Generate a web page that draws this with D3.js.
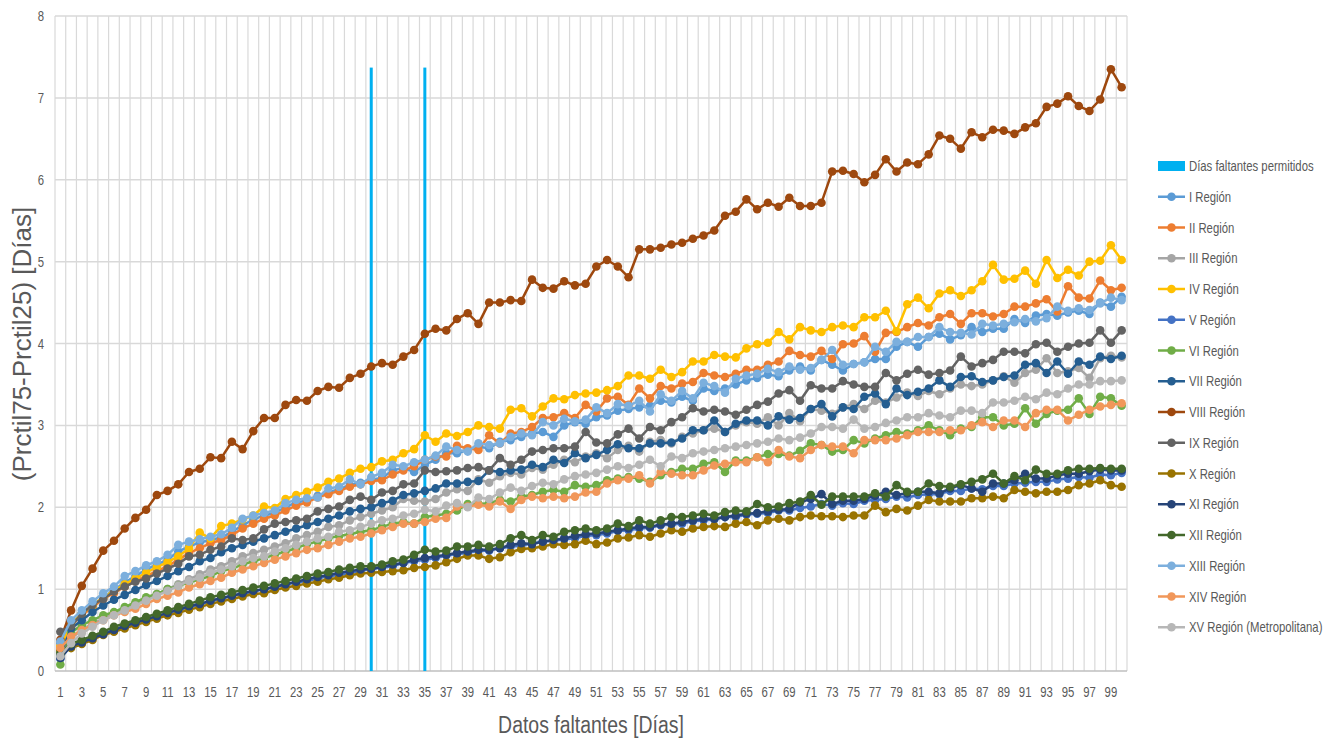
<!DOCTYPE html>
<html><head><meta charset="utf-8">
<script src="https://cdn.jsdelivr.net/npm/d3@7"></script>
<style>body{margin:0;background:#fff}svg{display:block}</style>
</head><body><svg id="c" width="1327" height="740"></svg>
<script>
const days = [1,2,3,4,5,6,7,8,9,10,11,12,13,14,15,16,17,18,19,20,21,22,23,24,25,26,27,28,29,30,31,32,33,34,35,36,37,38,39,40,41,42,43,44,45,46,47,48,49,50,51,52,53,54,55,56,57,58,59,60,61,62,63,64,65,66,67,68,69,70,71,72,73,74,75,76,77,78,79,80,81,82,83,84,85,86,87,88,89,90,91,92,93,94,95,96,97,98,99,100];
const yTicks = [0,1,2,3,4,5,6,7,8];
const barName = "Días faltantes permitidos";
const barDays = [30, 35];
const barValues = [7.37, 7.37];
const seriesNames = ["I Región","II Región","III Región","IV Región","V Región","VI Región","VII Región","VIII Región","IX Región","X Región","XI Región","XII Región","XIII Región","XIV Región","XV Región (Metropolitana)"];
const seriesColors = ["#5B9BD5","#ED7D31","#A5A5A5","#FFC000","#4472C4","#70AD47","#255E91","#9E480E","#636363","#997300","#264478","#43682B","#7CAFDD","#F1975A","#B7B7B7"];

const rI = [0.34,0.58,0.70,0.80,0.90,0.99,1.08,1.16,1.24,1.30,
1.36,1.46,1.52,1.57,1.60,1.63,1.70,1.78,1.85,1.90,
1.93,2.00,2.06,2.08,2.14,2.18,2.22,2.27,2.30,2.33,
2.36,2.45,2.48,2.43,2.52,2.58,2.66,2.66,2.70,2.74,
2.72,2.80,2.82,2.86,2.90,2.92,2.86,3.00,3.04,3.02,
3.10,3.12,3.18,3.20,3.22,3.24,3.30,3.28,3.35,3.30,
3.45,3.42,3.45,3.50,3.55,3.58,3.62,3.60,3.67,3.72,
3.67,3.80,3.74,3.67,3.75,3.77,3.81,3.81,3.96,4.02,
3.96,4.08,4.12,4.05,4.10,4.20,4.14,4.18,4.18,4.30,
4.25,4.34,4.36,4.34,4.38,4.40,4.36,4.50,4.45,4.57];
const rII = [0.30,0.55,0.68,0.78,0.88,0.95,1.03,1.10,1.16,1.22,
1.28,1.36,1.44,1.50,1.56,1.60,1.66,1.74,1.80,1.86,
1.90,1.96,2.02,2.06,2.12,2.16,2.20,2.25,2.28,2.32,
2.33,2.40,2.45,2.50,2.58,2.62,2.62,2.75,2.72,2.70,
2.88,2.78,2.90,2.92,2.98,3.09,3.10,3.15,3.09,3.25,
3.17,3.33,3.35,3.25,3.45,3.33,3.48,3.45,3.51,3.53,
3.64,3.61,3.59,3.63,3.68,3.68,3.74,3.78,3.91,3.86,
3.84,3.91,3.81,3.99,4.00,4.09,3.90,4.13,4.14,4.20,
4.25,4.22,4.32,4.36,4.24,4.37,4.37,4.33,4.36,4.45,
4.45,4.49,4.54,4.39,4.70,4.56,4.55,4.77,4.65,4.68];
const rIII = [0.20,0.40,0.50,0.58,0.64,0.70,0.76,0.82,0.88,0.94,
1.00,1.06,1.12,1.18,1.24,1.28,1.34,1.40,1.44,1.48,
1.52,1.56,1.62,1.66,1.70,1.76,1.78,1.84,1.88,1.92,
1.96,2.00,2.10,2.08,2.07,2.10,2.18,2.22,2.20,2.34,
2.30,2.38,2.42,2.40,2.48,2.46,2.52,2.58,2.55,2.62,
2.66,2.60,2.70,2.75,2.68,2.80,2.82,2.78,2.86,2.90,
2.94,2.96,2.92,3.00,3.04,3.02,3.10,3.00,3.15,3.05,
3.20,3.18,3.14,3.22,3.26,3.20,3.30,3.28,3.34,3.40,
3.36,3.42,3.38,3.45,3.50,3.48,3.50,3.55,3.60,3.52,
3.64,3.68,3.82,3.64,3.66,3.70,3.58,3.82,3.85,3.83];
const rIV = [0.30,0.57,0.70,0.80,0.90,0.98,1.06,1.13,1.20,1.27,
1.33,1.40,1.50,1.69,1.62,1.77,1.80,1.85,1.90,2.01,
1.99,2.10,2.15,2.19,2.24,2.31,2.35,2.42,2.47,2.49,
2.56,2.58,2.66,2.71,2.88,2.80,2.90,2.87,2.92,3.00,
2.98,2.96,3.19,3.21,3.11,3.23,3.33,3.32,3.37,3.39,
3.40,3.43,3.48,3.61,3.61,3.57,3.68,3.59,3.65,3.78,
3.78,3.86,3.84,3.83,3.94,3.99,4.01,4.14,4.05,4.20,
4.16,4.14,4.20,4.22,4.20,4.32,4.32,4.40,4.15,4.48,
4.56,4.43,4.61,4.65,4.58,4.65,4.76,4.96,4.78,4.79,
4.89,4.73,5.02,4.80,4.90,4.83,5.00,5.01,5.20,5.02];
const rV = [0.15,0.32,0.37,0.41,0.46,0.50,0.55,0.59,0.63,0.66,
0.71,0.74,0.78,0.81,0.85,0.88,0.92,0.94,0.97,1.00,
1.02,1.06,1.08,1.10,1.13,1.16,1.17,1.20,1.22,1.25,
1.26,1.28,1.32,1.34,1.36,1.38,1.41,1.43,1.44,1.47,
1.47,1.50,1.52,1.53,1.56,1.58,1.59,1.61,1.62,1.65,
1.66,1.68,1.71,1.72,1.74,1.75,1.78,1.79,1.80,1.83,
1.84,1.85,1.88,1.88,1.91,1.92,1.93,1.96,1.96,1.99,
2.01,2.04,2.02,2.05,2.04,2.08,2.09,2.10,2.13,2.12,
2.15,2.16,2.16,2.20,2.20,2.23,2.22,2.26,2.26,2.29,
2.30,2.31,2.31,2.34,2.35,2.37,2.36,2.40,2.39,2.42];
const rVI = [0.08,0.47,0.56,0.62,0.68,0.72,0.78,0.84,0.90,0.94,
1.00,1.04,1.08,1.12,1.16,1.22,1.25,1.30,1.34,1.38,
1.42,1.46,1.50,1.55,1.58,1.62,1.65,1.67,1.70,1.72,
1.76,1.80,1.82,1.80,1.88,1.90,1.92,1.96,2.04,2.04,
2.05,2.09,2.07,2.13,2.15,2.19,2.21,2.19,2.27,2.25,
2.27,2.33,2.35,2.37,2.35,2.31,2.39,2.43,2.47,2.47,
2.53,2.55,2.43,2.57,2.57,2.61,2.65,2.65,2.63,2.69,
2.78,2.76,2.68,2.70,2.82,2.78,2.84,2.88,2.92,2.90,
2.94,3.00,2.94,2.88,2.96,2.98,3.10,3.10,3.00,3.02,
3.21,3.02,3.14,3.18,3.19,3.33,3.14,3.35,3.33,3.24];
const rVII = [0.20,0.52,0.62,0.72,0.80,0.87,0.93,0.99,1.05,1.10,
1.16,1.22,1.27,1.34,1.38,1.45,1.50,1.54,1.58,1.62,
1.66,1.70,1.74,1.78,1.82,1.86,1.90,1.95,1.98,2.00,
2.05,2.08,2.15,2.17,2.20,2.23,2.29,2.29,2.31,2.32,
2.45,2.43,2.45,2.46,2.52,2.49,2.58,2.54,2.66,2.60,
2.64,2.70,2.77,2.72,2.72,2.78,2.78,2.79,2.84,2.94,
2.94,3.06,2.92,3.02,3.06,3.06,3.00,3.11,3.07,3.09,
3.20,3.26,3.11,3.22,3.20,3.35,3.39,3.26,3.45,3.37,
3.41,3.45,3.55,3.47,3.59,3.60,3.53,3.55,3.59,3.61,
3.74,3.76,3.64,3.78,3.63,3.78,3.74,3.84,3.81,3.85];
const rVIII = [0.38,0.74,1.04,1.25,1.47,1.59,1.74,1.87,1.97,2.15,
2.20,2.28,2.43,2.47,2.61,2.60,2.80,2.71,2.93,3.09,
3.09,3.25,3.31,3.30,3.42,3.47,3.46,3.58,3.63,3.72,
3.76,3.74,3.84,3.92,4.12,4.18,4.16,4.30,4.37,4.24,
4.50,4.50,4.53,4.52,4.78,4.68,4.67,4.76,4.71,4.73,
4.94,5.02,4.94,4.81,5.15,5.15,5.17,5.21,5.23,5.28,
5.32,5.38,5.56,5.61,5.76,5.64,5.72,5.67,5.78,5.68,
5.68,5.72,6.10,6.11,6.07,5.97,6.06,6.25,6.10,6.21,
6.19,6.31,6.54,6.50,6.38,6.58,6.52,6.61,6.60,6.56,
6.64,6.69,6.89,6.93,7.02,6.90,6.84,6.98,7.35,7.13];
const rIX = [0.48,0.55,0.70,0.81,0.88,0.97,1.03,1.09,1.13,1.19,
1.25,1.31,1.40,1.42,1.48,1.52,1.62,1.60,1.62,1.73,
1.80,1.82,1.84,1.86,1.95,1.98,2.01,2.09,2.13,2.09,
2.18,2.20,2.28,2.29,2.45,2.43,2.44,2.45,2.48,2.49,
2.45,2.60,2.52,2.58,2.68,2.70,2.72,2.72,2.74,2.92,
2.79,2.78,2.89,2.96,2.84,2.98,2.94,3.04,3.10,3.21,
3.17,3.19,3.17,3.13,3.19,3.25,3.29,3.39,3.43,3.30,
3.49,3.45,3.45,3.54,3.50,3.47,3.47,3.64,3.55,3.63,
3.68,3.62,3.64,3.67,3.84,3.72,3.76,3.80,3.90,3.90,
3.88,3.99,4.01,3.90,3.96,4.00,4.01,4.16,4.01,4.16];
const rX = [0.25,0.28,0.33,0.38,0.44,0.48,0.52,0.56,0.60,0.64,
0.68,0.71,0.75,0.78,0.82,0.85,0.88,0.91,0.94,0.95,
0.99,1.02,1.04,1.07,1.09,1.12,1.14,1.17,1.19,1.20,
1.21,1.22,1.23,1.26,1.27,1.29,1.33,1.37,1.41,1.41,
1.37,1.39,1.45,1.49,1.50,1.52,1.55,1.54,1.55,1.59,
1.55,1.57,1.62,1.63,1.66,1.64,1.68,1.72,1.70,1.74,
1.76,1.77,1.76,1.80,1.82,1.78,1.84,1.86,1.84,1.88,
1.90,1.89,1.89,1.88,1.90,1.90,2.02,1.94,1.98,1.96,
2.02,2.09,2.07,2.07,2.07,2.11,2.11,2.13,2.11,2.21,
2.19,2.17,2.19,2.19,2.21,2.27,2.29,2.33,2.27,2.25];
const rXI = [0.16,0.30,0.35,0.40,0.45,0.50,0.55,0.59,0.63,0.67,
0.71,0.75,0.79,0.82,0.86,0.89,0.92,0.95,0.98,1.00,
1.03,1.06,1.09,1.12,1.15,1.17,1.20,1.22,1.24,1.25,
1.27,1.30,1.32,1.36,1.38,1.40,1.42,1.44,1.46,1.48,
1.48,1.50,1.54,1.56,1.55,1.58,1.60,1.62,1.65,1.67,
1.68,1.70,1.72,1.74,1.76,1.76,1.79,1.80,1.82,1.84,
1.86,1.86,1.88,1.90,1.92,1.93,1.95,1.97,1.98,2.06,
2.10,2.16,2.04,2.08,2.08,2.10,2.14,2.19,2.15,2.17,
2.19,2.19,2.17,2.23,2.27,2.23,2.19,2.29,2.29,2.33,
2.41,2.35,2.35,2.39,2.41,2.41,2.44,2.46,2.45,2.45];
const rXII = [0.22,0.33,0.38,0.43,0.48,0.54,0.58,0.62,0.66,0.70,
0.74,0.78,0.82,0.86,0.90,0.93,0.96,0.99,1.02,1.04,
1.07,1.10,1.13,1.16,1.19,1.21,1.24,1.26,1.28,1.28,
1.30,1.34,1.36,1.42,1.48,1.46,1.47,1.52,1.52,1.54,
1.52,1.55,1.62,1.66,1.60,1.66,1.64,1.70,1.72,1.74,
1.72,1.74,1.80,1.77,1.84,1.80,1.84,1.88,1.88,1.90,
1.92,1.90,1.94,1.96,1.95,2.04,2.00,2.01,2.05,2.07,
2.15,2.03,2.13,2.13,2.13,2.13,2.17,2.13,2.27,2.19,
2.19,2.29,2.26,2.25,2.28,2.31,2.34,2.41,2.29,2.38,
2.33,2.46,2.41,2.41,2.45,2.47,2.47,2.48,2.47,2.47];
const rXIII = [0.36,0.62,0.74,0.85,0.95,1.03,1.16,1.22,1.29,1.34,
1.42,1.54,1.58,1.61,1.64,1.67,1.75,1.86,1.90,1.93,
1.96,2.05,2.09,2.11,2.12,2.23,2.25,2.34,2.28,2.37,
2.42,2.52,2.50,2.55,2.58,2.63,2.74,2.70,2.68,2.78,
2.76,2.78,2.86,2.90,2.88,3.04,3.00,3.08,3.05,3.07,
3.22,3.15,3.26,3.24,3.30,3.17,3.38,3.30,3.42,3.33,
3.52,3.48,3.40,3.57,3.61,3.63,3.69,3.65,3.72,3.68,
3.70,3.80,3.92,3.74,3.75,3.77,3.96,3.90,4.02,4.02,
4.08,4.08,4.20,4.14,4.13,4.11,4.24,4.22,4.24,4.26,
4.30,4.27,4.31,4.45,4.40,4.43,4.41,4.49,4.56,4.53];
const rXIV = [0.28,0.42,0.50,0.56,0.62,0.68,0.72,0.76,0.82,0.88,
0.92,0.96,1.02,1.06,1.10,1.14,1.20,1.24,1.28,1.32,
1.36,1.40,1.44,1.48,1.50,1.54,1.58,1.62,1.64,1.68,
1.72,1.76,1.80,1.80,1.82,1.86,1.87,2.01,2.01,2.03,
2.01,2.07,1.98,2.09,2.13,2.11,2.13,2.11,2.13,2.18,
2.19,2.29,2.33,2.35,2.39,2.29,2.43,2.41,2.39,2.39,
2.45,2.51,2.53,2.55,2.55,2.61,2.55,2.70,2.62,2.60,
2.70,2.76,2.74,2.74,2.66,2.82,2.82,2.82,2.84,2.88,
2.92,2.92,2.92,2.94,2.94,3.00,3.04,2.98,3.06,3.06,
2.98,3.15,3.19,3.19,3.06,3.13,3.19,3.23,3.25,3.27];
const rXV = [0.18,0.34,0.46,0.54,0.62,0.68,0.74,0.80,0.86,0.92,
0.98,1.04,1.10,1.14,1.20,1.24,1.28,1.34,1.38,1.40,
1.46,1.50,1.54,1.58,1.62,1.64,1.70,1.72,1.76,1.80,
1.84,1.86,1.90,1.92,1.97,1.95,2.02,2.05,2.00,2.12,
2.10,2.18,2.24,2.20,2.26,2.30,2.28,2.34,2.38,2.40,
2.42,2.46,2.50,2.48,2.52,2.58,2.50,2.62,2.60,2.66,
2.68,2.70,2.72,2.74,2.76,2.78,2.80,2.84,2.82,2.85,
2.90,2.98,2.98,2.96,3.07,2.96,2.98,3.03,3.06,3.10,
3.10,3.15,3.12,3.10,3.18,3.18,3.15,3.28,3.28,3.30,
3.35,3.32,3.40,3.38,3.45,3.50,3.50,3.54,3.54,3.55];

const seriesValues = [rI,rII,rIII,rIV,rV,rVI,rVII,rVIII,rIX,rX,rXI,rXII,rXIII,rXIV,rXV];

const FONT = "'Liberation Sans',Arial,sans-serif";
const SQ = 0.81; // horizontal condensing to mimic the narrow face of the original
const TXT = "#595959";
const svg = d3.select("#c");
const pLeft = 55, pRight = 1127, pTop = 16, pBottom = 671;
const x = d3.scaleBand().domain(days).range([pLeft, pRight]).padding(0);
const y = d3.scaleLinear().domain([0, 8]).range([pBottom, pTop]);
const cx = d => x(d) + x.bandwidth() / 2;

function label(g, px, py, str, size, anchor, dy) {
  return g.append("text")
    .attr("transform", `translate(${px},${py}) scale(${SQ},1)`)
    .attr("dy", dy || 0)
    .attr("text-anchor", anchor || "start")
    .attr("font-family", FONT).attr("font-size", size).attr("fill", TXT)
    .text(str);
}

// vertical grid lines at category boundaries
const vg = svg.append("g");
vg.selectAll("line").data(days).join("line")
  .attr("x1", d => x(d)).attr("x2", d => x(d))
  .attr("y1", pTop).attr("y2", pBottom)
  .attr("stroke", "#d9d9d9").attr("stroke-width", 1.2);
vg.append("line").attr("x1", pRight).attr("x2", pRight).attr("y1", pTop).attr("y2", pBottom)
  .attr("stroke", "#d9d9d9").attr("stroke-width", 1.2);
// horizontal grid
svg.append("g").selectAll("line").data(yTicks.filter(t => t > 0)).join("line")
  .attr("x1", pLeft).attr("x2", pRight).attr("y1", d => y(d)).attr("y2", d => y(d))
  .attr("stroke", "#d9d9d9").attr("stroke-width", 1.5);
// bottom axis line
svg.append("line").attr("x1", pLeft).attr("x2", pRight).attr("y1", y(0)).attr("y2", y(0))
  .attr("stroke", "#bfbfbf").attr("stroke-width", 1.5);

// y tick labels
const yl = svg.append("g");
yTicks.forEach(t => label(yl, 44, y(t), t, 14, "end", "0.36em"));
// x tick labels (odd days)
const xl = svg.append("g");
days.filter(d => d % 2 === 1).forEach(d => label(xl, cx(d), 697, d, 14, "middle"));

// bars
svg.append("g").selectAll("rect").data(barDays).join("rect")
  .attr("x", d => cx(d) - 1.5).attr("width", 3)
  .attr("y", (d, i) => y(barValues[i])).attr("height", (d, i) => y(0) - y(barValues[i]))
  .attr("fill", "#00B0F0");

// lines
const line = d3.line().x((v, i) => cx(days[i])).y(v => y(v));
seriesValues.forEach((vals, s) => {
  const g = svg.append("g");
  g.append("path").attr("d", line(vals)).attr("fill", "none")
    .attr("stroke", seriesColors[s]).attr("stroke-width", 2.5).attr("stroke-linejoin", "round");
  g.selectAll("circle").data(vals).join("circle")
    .attr("cx", (v, i) => cx(days[i])).attr("cy", v => y(v)).attr("r", 4.3)
    .attr("fill", seriesColors[s]);
});

// axis titles
label(svg, 591, 733, "Datos faltantes [Días]", 24, "middle");
svg.append("text").attr("transform", "translate(31,344) rotate(-90)").attr("text-anchor", "middle")
  .attr("font-family", FONT).attr("font-size", 26).attr("fill", TXT)
  .text("(Prctil75-Prctil25) [Días]");

// legend
const lg = svg.append("g");
const ly = k => 166 + k * 30.75;
lg.append("rect").attr("x", 1158).attr("y", ly(0) - 5).attr("width", 27).attr("height", 10).attr("fill", "#00B0F0");
label(lg, 1189, ly(0), barName, 14, "start", "0.36em");
seriesNames.forEach((n, s) => {
  const yy = ly(s + 1);
  lg.append("line").attr("x1", 1158).attr("x2", 1185).attr("y1", yy).attr("y2", yy)
    .attr("stroke", seriesColors[s]).attr("stroke-width", 2.5);
  lg.append("circle").attr("cx", 1171.5).attr("cy", yy).attr("r", 4.3).attr("fill", seriesColors[s]);
  label(lg, 1189, yy, n, 14, "start", "0.36em");
});
</script></body></html>
